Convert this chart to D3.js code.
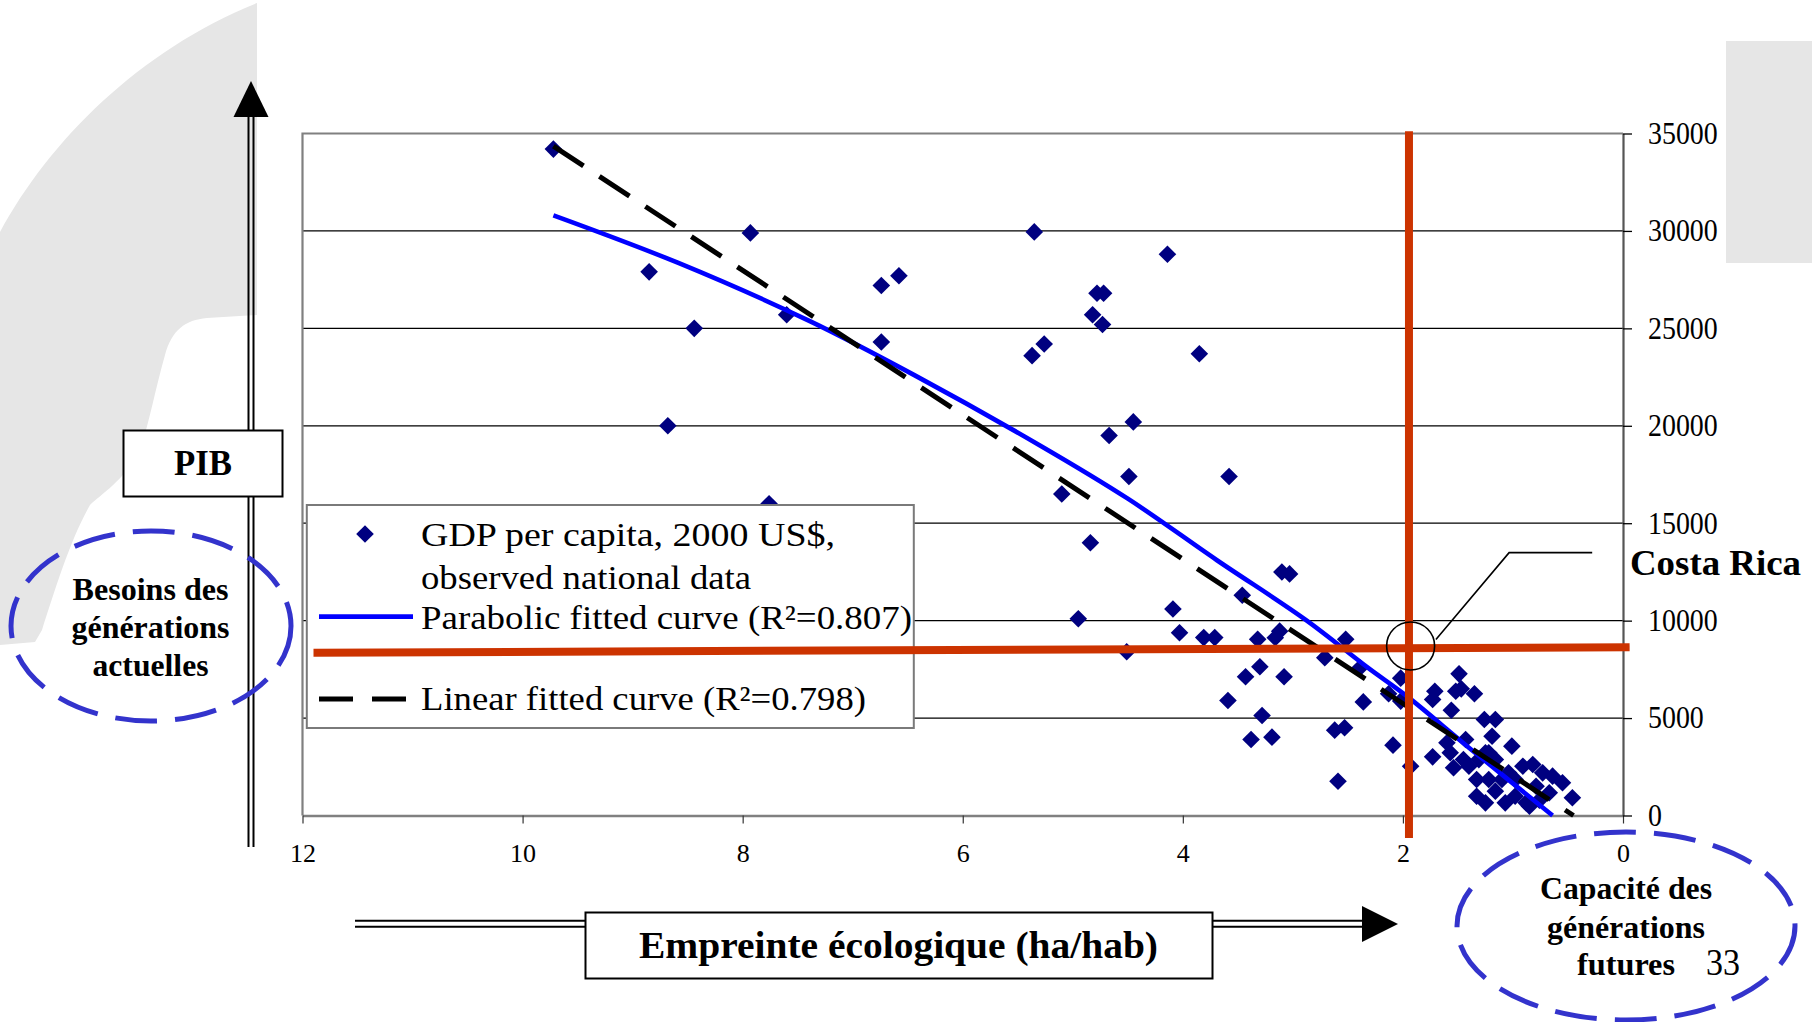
<!DOCTYPE html>
<html>
<head>
<meta charset="utf-8">
<script src="https://cdn.jsdelivr.net/npm/d3@7"></script>
<style>
  html, body { margin: 0; padding: 0; background: #ffffff; }
  svg { display: block; }
</style>
</head>
<body>
<svg id="chart" width="1812" height="1022"></svg>
<script>
// Ecological footprint (ha per person) against GDP per capita (2000 US$), one point per country
const footprintHa = [
  9.72, 7.93, 8.85, 6.74, 6.58, 8.44, 7.60, 6.74, 8.68, 7.76,
  5.35, 4.14, 4.78, 4.72, 4.82, 4.73, 5.26, 5.37, 3.85, 4.45,
  4.67, 4.49, 3.58, 5.10, 4.84, 3.10, 3.03, 3.46, 4.95, 4.09,
  4.03, 3.81, 3.71, 3.32, 3.16, 3.12, 2.52, 4.51, 2.71, 2.39,
  3.30, 3.43, 3.08, 3.59, 3.28, 3.38, 3.19, 2.62, 2.53, 2.59,
  2.36, 2.02, 2.13, 2.02, 2.09, 1.93, 1.73, 1.49, 1.71, 1.73,
  1.52, 1.47, 1.35, 1.56, 1.26, 1.16, 1.19, 1.01, 1.60, 1.43,
  1.57, 1.54, 1.40, 1.33, 1.33, 1.25, 1.16, 1.07, 0.98, 0.88,
  0.91, 0.82, 0.73, 0.64, 0.55, 0.46, 0.67, 0.79, 0.85, 0.98,
  1.10, 1.16, 1.25, 1.45, 1.31, 1.22, 1.22, 1.04, 0.76
];
const gdpPerCapita = [
  34200, 29900, 27900, 27200, 27700, 25000, 25700, 24300, 20000, 16000,
  29950, 28800, 26800, 26800, 25700, 25200, 24200, 23600, 23700, 20200,
  19500, 17400, 17400, 16500, 14000, 12500, 12400, 11300, 10100, 10600,
  9380, 9130, 9130, 9040, 9120, 9460, 9040, 8400, 8100, 7580,
  7630, 7120, 7120, 5900, 5130, 3900, 4020, 4380, 4500, 1760,
  5830, 7050, 6250, 5870, 3610, 2530, 3010, 7270, 6380, 5950,
  6380, 6500, 6250, 5400, 4930, 4930, 4070, 3560, 3730, 3900,
  3220, 2450, 2530, 1850, 990, 650, 1250, 650, 990, 650,
  2530, 2620, 2190, 2020, 1680, 910, 1170, 1500, 480, 1850,
  1850, 2870, 3220, 2870, 2870, 1850, 3220, 2190, 780
];

// Fitted curves, as points along each curve
const parabolicFootprint = [9.72, 8.59, 7.39, 6.44, 5.31, 4.50, 3.69, 2.88, 2.31, 1.97, 1.40, 0.64];
const parabolicGdp       = [30800, 28370, 25370, 22600, 19030, 16260, 13100, 10030, 7550, 6150, 3480, 0];
const linearFootprint = [9.72, 0.45];
const linearGdp       = [34350, 0];

// Axes
const xTickValues = [12, 10, 8, 6, 4, 2, 0];
const yTickValues = [0, 5000, 10000, 15000, 20000, 25000, 30000, 35000];
const gridValues  = [5000, 10000, 15000, 20000, 25000, 30000];

// Legend entries
const legendLabels = [
  "GDP per capita, 2000 US$,",
  "observed national data",
  "Parabolic fitted curve (R\u00B2=0.807)",
  "Linear fitted curve (R\u00B2=0.798)"
];

// Costa Rica reference lines (footprint and GDP level), with the slight slant of the horizontal stroke
const costaRicaFootprint = 1.945;
const costaRicaLevel = [[11.9, 8355], [-0.06, 8632]];
const costaRicaMark = [1.93, 8700];
const costaRicaLeader = [[1.70, 9030], [1.035, 13490], [0.28, 13490]];

// ---------------------------------------------------------------------------
const SERIF = "'Liberation Serif', 'Times New Roman', Times, serif";
const svg = d3.select("#chart");

const frame = { left: 302.5, right: 1623, top: 133.5, bottom: 815.5 };
const x = d3.scaleLinear().domain([12, 0]).range([frame.left, frame.right]);
const y = d3.scaleLinear().domain([0, 35000]).range([frame.bottom, frame.top]);

function label(parent, str, px, py, opts) {
  const t = parent.append("text")
    .attr("x", px).attr("y", py)
    .attr("font-family", SERIF)
    .attr("font-size", opts.size)
    .attr("font-weight", opts.bold ? "bold" : "normal")
    .attr("text-anchor", opts.anchor || "start")
    .attr("fill", "#000")
    .text(str);
  if (opts.width) t.attr("textLength", opts.width).attr("lengthAdjust", "spacingAndGlyphs");
  return t;
}

// Light grey backdrop shapes
const deco = svg.append("g");
deco.append("path")
  .attr("d", "M0,232 C50,140 140,50 257,3 L257,315 L207,318 C185,320 172,330 165,355 " +
             "C155,390 150,420 140,450 C125,480 100,495 90,505 C70,540 55,590 42,630 L35,642 L0,645 Z")
  .attr("fill", "#e6e6e6");
deco.append("rect").attr("x", 1726).attr("y", 41).attr("width", 86).attr("height", 222).attr("fill", "#e6e6e6");

// Gridlines
const plot = svg.append("g");
plot.append("g").selectAll("line").data(gridValues).join("line")
  .attr("x1", x(12)).attr("x2", x(0))
  .attr("y1", d => y(d)).attr("y2", d => y(d))
  .attr("stroke", "#000").attr("stroke-width", 1.3);

// Plot frame: top and left edges
plot.append("path")
  .attr("d", `M${x(0)},${y(35000)}H${x(12)}V${y(0)}`)
  .attr("fill", "none").attr("stroke", "#808080").attr("stroke-width", 2.2);

// Bottom axis
const xAxis = plot.append("g")
  .attr("transform", `translate(0,${frame.bottom})`)
  .call(d3.axisBottom(x).tickValues(xTickValues).tickSize(8).tickSizeOuter(0).tickFormat(d3.format("d")));
xAxis.select(".domain").attr("stroke", "#808080").attr("stroke-width", 2.4);
xAxis.selectAll(".tick line").attr("stroke", "#333").attr("stroke-width", 1.2);
xAxis.selectAll(".tick text")
  .attr("font-family", SERIF).attr("font-size", 26).attr("fill", "#000")
  .attr("y", 46).attr("dy", 0);

// Right axis with values
const yAxis = plot.append("g")
  .attr("transform", `translate(${frame.right},0)`)
  .call(d3.axisRight(y).tickValues(yTickValues).tickSize(9).tickSizeOuter(0).tickFormat(d3.format("d")));
yAxis.select(".domain").attr("stroke", "#555").attr("stroke-width", 2.2);
yAxis.selectAll(".tick line").attr("stroke", "#000").attr("stroke-width", 1.3);
yAxis.selectAll(".tick text")
  .attr("font-family", SERIF).attr("font-size", 31).attr("fill", "#000")
  .attr("x", 25 / 0.9).attr("dy", "0.32em")
  .attr("transform", "scale(0.9,1)");

// Observed points
const half = 8.8;
const diamond = `M0,${-half}L${half},0L0,${half}L${-half},0Z`;
plot.append("g").selectAll("path").data(d3.range(footprintHa.length)).join("path")
  .attr("d", diamond)
  .attr("transform", i => `translate(${x(footprintHa[i])},${y(gdpPerCapita[i])})`)
  .attr("fill", "#000080");

// Parabolic fit
const parabolicPts = parabolicFootprint.map((f, i) => [f, parabolicGdp[i]]);
plot.append("path")
  .datum(parabolicPts)
  .attr("d", d3.line().x(d => x(d[0])).y(d => y(d[1])).curve(d3.curveCatmullRom))
  .attr("fill", "none").attr("stroke", "#0000ff").attr("stroke-width", 4.6);

// Linear fit
const linearPts = linearFootprint.map((f, i) => [f, linearGdp[i]]);
plot.append("path")
  .datum(linearPts)
  .attr("d", d3.line().x(d => x(d[0])).y(d => y(d[1])))
  .attr("fill", "none").attr("stroke", "#000").attr("stroke-width", 5)
  .attr("stroke-dasharray", "36,19");

// Legend
const legend = svg.append("g");
legend.append("rect").attr("x", 306.8).attr("y", 505).attr("width", 607).attr("height", 223)
  .attr("fill", "#fff").attr("stroke", "#7a7a7a").attr("stroke-width", 2);
legend.append("path").attr("d", diamond).attr("transform", "translate(365,534)").attr("fill", "#000080");
legend.append("line").attr("x1", 319).attr("x2", 413).attr("y1", 616.7).attr("y2", 616.7)
  .attr("stroke", "#0000ff").attr("stroke-width", 4.8);
legend.append("line").attr("x1", 319).attr("x2", 408).attr("y1", 699).attr("y2", 699)
  .attr("stroke", "#000").attr("stroke-width", 5).attr("stroke-dasharray", "34,19");
const legendRows = [
  { y: 545.5, w: 414 },
  { y: 588.5, w: 330 },
  { y: 629.0, w: 491 },
  { y: 710.0, w: 445 }
];
legendLabels.forEach((s, i) => label(legend, s, 421, legendRows[i].y, { size: 34, width: legendRows[i].w }));

// Costa Rica reference lines
const ref = svg.append("g");
ref.append("line")
  .attr("x1", x(costaRicaLevel[0][0])).attr("y1", y(costaRicaLevel[0][1]))
  .attr("x2", x(costaRicaLevel[1][0])).attr("y2", y(costaRicaLevel[1][1]))
  .attr("stroke", "#cc3300").attr("stroke-width", 8);
ref.append("line")
  .attr("x1", x(costaRicaFootprint)).attr("x2", x(costaRicaFootprint))
  .attr("y1", y(35110)).attr("y2", y(-1160))
  .attr("stroke", "#cc3300").attr("stroke-width", 8);
ref.append("circle")
  .attr("cx", x(costaRicaMark[0])).attr("cy", y(costaRicaMark[1])).attr("r", 24)
  .attr("fill", "none").attr("stroke", "#000").attr("stroke-width", 1.6);
ref.append("path")
  .attr("d", d3.line().x(d => x(d[0])).y(d => y(d[1]))(costaRicaLeader))
  .attr("fill", "none").attr("stroke", "#000").attr("stroke-width", 1.6);
label(ref, "Costa Rica", 1630, 575, { size: 36, bold: true, width: 171 });

// Vertical arrow (PIB)
const ann = svg.append("g");
ann.append("line").attr("x1", 248.5).attr("x2", 248.5).attr("y1", 112).attr("y2", 847).attr("stroke", "#000").attr("stroke-width", 2);
ann.append("line").attr("x1", 253.5).attr("x2", 253.5).attr("y1", 112).attr("y2", 847).attr("stroke", "#000").attr("stroke-width", 2);
ann.append("path").attr("d", "M251,81 L268.5,117 L233.5,117 Z").attr("fill", "#000");
ann.append("rect").attr("x", 123.5).attr("y", 430.5).attr("width", 159).attr("height", 66)
  .attr("fill", "#fff").attr("stroke", "#000").attr("stroke-width", 2);
label(ann, "PIB", 203, 475, { size: 35, bold: true, anchor: "middle", width: 58 });

// Horizontal arrow (footprint)
ann.append("line").attr("x1", 355).attr("x2", 1366).attr("y1", 920.7).attr("y2", 920.7).attr("stroke", "#000").attr("stroke-width", 2);
ann.append("line").attr("x1", 355).attr("x2", 1366).attr("y1", 926.7).attr("y2", 926.7).attr("stroke", "#000").attr("stroke-width", 2);
ann.append("path").attr("d", "M1398,924 L1362,906 L1362,942 Z").attr("fill", "#000");
ann.append("rect").attr("x", 585.5).attr("y", 912.5).attr("width", 627).attr("height", 66)
  .attr("fill", "#fff").attr("stroke", "#000").attr("stroke-width", 2);
label(ann, "Empreinte \u00E9cologique (ha/hab)", 898.5, 958, { size: 38, bold: true, anchor: "middle", width: 519 });

// Dashed ellipses with their captions
ann.append("ellipse").attr("cx", 151).attr("cy", 626).attr("rx", 140).attr("ry", 95)
  .attr("fill", "none").attr("stroke", "#3333cc").attr("stroke-width", 5).attr("stroke-dasharray", "42,18");
label(ann, "Besoins des", 150.5, 600, { size: 32, bold: true, anchor: "middle", width: 156 });
label(ann, "g\u00E9n\u00E9rations", 150.5, 638, { size: 32, bold: true, anchor: "middle", width: 158 });
label(ann, "actuelles", 150.5, 675.5, { size: 32, bold: true, anchor: "middle", width: 116 });

ann.append("ellipse").attr("cx", 1626).attr("cy", 926).attr("rx", 169).attr("ry", 94)
  .attr("fill", "none").attr("stroke", "#3333cc").attr("stroke-width", 5).attr("stroke-dasharray", "42,18");
label(ann, "Capacit\u00E9 des", 1626, 899.3, { size: 32, bold: true, anchor: "middle", width: 172 });
label(ann, "g\u00E9n\u00E9rations", 1626, 938.3, { size: 32, bold: true, anchor: "middle", width: 158 });
label(ann, "futures", 1626, 975, { size: 32, bold: true, anchor: "middle", width: 98 });
label(ann, "33", 1706, 975, { size: 37, width: 34 });
</script>
</body>
</html>
